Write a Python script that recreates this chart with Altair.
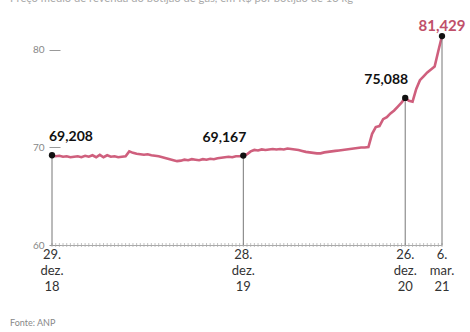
import altair as alt
import pandas as pd

# Weekly average price (R$)
prices = [
    69.208, 69.10, 69.15, 69.05, 69.10, 69.00, 69.05, 69.10, 69.00, 69.15,
    69.05, 69.20, 69.00, 69.25, 69.00, 69.20, 69.05, 69.10, 69.00, 69.05,
    69.10, 69.60, 69.45, 69.35, 69.30, 69.25, 69.30, 69.20, 69.15, 69.10,
    69.00, 68.90, 68.80, 68.70, 68.60, 68.65, 68.75, 68.70, 68.80, 68.75,
    68.70, 68.80, 68.75, 68.85, 68.80, 68.90, 68.95, 69.00, 69.05, 69.00,
    69.10, 69.10, 69.167, 69.30, 69.60, 69.75, 69.70, 69.80, 69.75, 69.80,
    69.85, 69.80, 69.85, 69.80, 69.90, 69.85, 69.80, 69.75, 69.65, 69.55,
    69.50, 69.45, 69.40, 69.40, 69.50, 69.55, 69.60, 69.65, 69.70, 69.75,
    69.80, 69.85, 69.90, 69.95, 70.00, 70.00, 70.05, 71.40, 72.10, 72.20,
    72.90, 73.10, 73.50, 73.80, 74.20, 74.60, 75.088, 74.80, 74.70, 76.00,
    76.90, 77.30, 77.70, 78.00, 78.30, 79.90, 81.429,
]
weeks = list(range(len(prices)))

x_label_idx = [0, 52, 96, 106]
x_label_text = ["29.\ndez.\n18", "28.\ndez.\n19", "26.\ndez.\n20", "6.\nmar.\n21"]

hl_idx = [0, 52, 96, 106]
hl_text = ["69,208", "69,167", "75,088", "81,429"]

y_ticks = [60, 70, 80]
title_text = "Preço médio de revenda do botijão de gás, em R$ por botijão de 13 kg"
source_text = "Fonte: ANP"

df = pd.DataFrame({"week": weeks, "price": prices})
hl = pd.DataFrame({"week": hl_idx, "price": [prices[i] for i in hl_idx], "label": hl_text})
xl = pd.DataFrame({"week": x_label_idx, "label": x_label_text})

FONT = "Lato"
LINE = "#cf5f7d"

x_scale = alt.Scale(domain=[0, len(prices) - 1], nice=False, zero=False)
y_scale = alt.Scale(domain=[60, 82.46], nice=False, zero=False)

base_x = alt.X(
    "week:Q", scale=x_scale, title=None,
    axis=alt.Axis(labels=False, ticks=False, grid=False, domainColor="#aaaaaa"),
)
base_y = alt.Y(
    "price:Q", scale=y_scale, title=None,
    axis=alt.Axis(values=y_ticks, grid=False, domain=False, offset=-8,
                  tickSize=11, tickColor="#999999", labelPadding=5,
                  labelFont=FONT, labelFontSize=10, labelColor="#888888"),
)

line = alt.Chart(df).mark_line(color=LINE, strokeWidth=2.6).encode(x=base_x, y=base_y)

week_ticks = alt.Chart(df).mark_tick(orient="vertical", size=4, thickness=1, color="#aaaaaa").encode(
    x=alt.X("week:Q", scale=x_scale), y=alt.datum(60, scale=y_scale)
)

x_labels = alt.Chart(xl).mark_text(
    font=FONT, fontSize=13, color="#333333", align="center", baseline="top",
    lineBreak="\n", lineHeight=16, dy=4,
).encode(x=alt.X("week:Q", scale=x_scale), y=alt.datum(60, scale=y_scale), text="label:N")

rules = alt.Chart(hl).mark_rule(color="#777777", strokeWidth=1).encode(
    x=alt.X("week:Q", scale=x_scale),
    y=alt.Y("price:Q", scale=y_scale),
    y2=alt.datum(60),
)
dots = alt.Chart(hl).mark_circle(color="#111111", size=40, opacity=1).encode(
    x=alt.X("week:Q", scale=x_scale), y=alt.Y("price:Q", scale=y_scale)
)

def lab(rows, **kw):
    return alt.Chart(hl.iloc[rows]).mark_text(font=FONT, fontWeight="bold", **kw).encode(
        x=alt.X("week:Q", scale=x_scale), y=alt.Y("price:Q", scale=y_scale), text="label:N"
    )

lab_left = lab([0], align="left", dx=-3, dy=-18, fontSize=14, color="#111111")
lab_right = lab([1, 2], align="right", dx=3, dy=-18, fontSize=14, color="#111111")
lab_last = lab([3], align="center", dx=0, dy=-10, fontSize=15, color="#c0506a")

title = alt.Chart(alt.Data(values=[{"t": title_text}])).mark_text(
    font=FONT, fontSize=11.2, color="#aaaaaa", align="left", baseline="alphabetic"
).encode(x=alt.value(-42), y=alt.value(-24), text="t:N")

source = alt.Chart(alt.Data(values=[{"t": source_text}])).mark_text(
    font=FONT, fontSize=9, color="#888888", align="left", baseline="middle"
).encode(x=alt.value(-42), y=alt.value(297), text="t:N")

chart = alt.layer(line, week_ticks, rules, dots, x_labels, lab_left, lab_right, lab_last, title, source).properties(
    width=390, height=219,
    padding={"left": 52, "top": 26, "right": 28, "bottom": 87},
    autosize=alt.AutoSizeParams(type="none"),
).configure_view(stroke=None)

chart.save("out.html", embed_options={"renderer": "svg", "actions": False})
